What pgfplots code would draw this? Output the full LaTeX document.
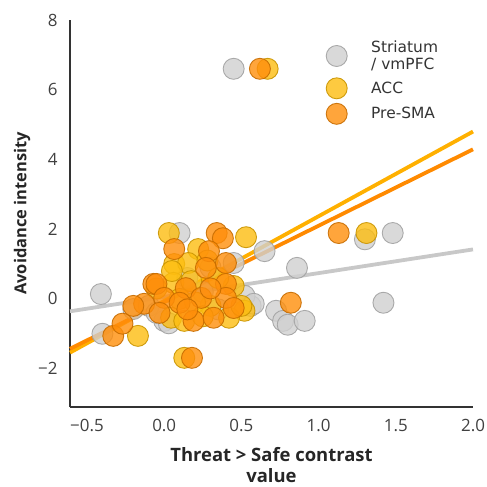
\documentclass[border=0pt]{standalone}
\usepackage{pgfplots}
\pgfplotsset{compat=1.18}
\usepackage{fontspec}
\setmainfont{Open Sans}
\newfontfamily\legfont{DejaVu Sans}

\definecolor{grfill}{HTML}{D0D0D0}
\definecolor{gredge}{HTML}{A2A2A2}
\definecolor{accfill}{HTML}{FDBD10}
\definecolor{accedge}{HTML}{C99400}
\definecolor{smafill}{HTML}{FF8E0A}
\definecolor{smaedge}{HTML}{C76C00}
\definecolor{grline}{HTML}{C8C8C8}
\definecolor{accline}{HTML}{FFB000}
\definecolor{smaline}{HTML}{FF8A00}
\definecolor{spine}{HTML}{333333}

\begin{document}
\begin{tikzpicture}
\begin{axis}[
    scale only axis,
    width=403bp, height=387bp,
    xmin=-0.61, xmax=2.0,
    ymin=-3.1, ymax=8,
    axis x line*=bottom, axis y line*=left,
    axis line style={spine, line width=1.4bp},
    major tick length=0pt,
    xtick={-0.5,0,0.5,1,1.5,2},
    xticklabels={−0.5,0.0,0.5,1.0,1.5,2.0},
    ytick={-2,0,2,4,6,8},
    yticklabels={−2,0,2,4,6,8},
    tick label style={font=\fontsize{17}{17}\selectfont, color=black!75},
    xticklabel style={yshift=-9bp},
    yticklabel style={xshift=-9bp},
    xlabel={Threat > Safe contrast\\value},
    xlabel style={font=\fontsize{18.5}{21}\selectfont\bfseries, align=center, color=black!85,
        at={(axis description cs:0.5,-0.151)}, anchor=center},
    ylabel={Avoidance intensity},
    ylabel style={font=\fontsize{16.5}{19}\selectfont\bfseries, color=black!85,
        at={(axis description cs:-0.119,0.5)}, anchor=center},
    clip=false,
    legend style={draw=none, fill=none, inner sep=0pt, at={(axis cs:1.048,7.47)}, anchor=north west,
        font=\legfont\fontsize{15.5}{17.5}\selectfont, row sep=4.5bp,
        cells={anchor=west, align=left}, text=black!80,
        /tikz/every odd column/.style={column sep=22bp}},
    legend image code/.code={\draw[mark repeat=2,mark phase=2,#1] plot coordinates {(0cm,0cm) (0.4cm,0cm) (0.8cm,0cm)};},
]
% Striatum / vmPFC
\addplot[only marks, mark=*, mark size=10.5bp, line width=0.9bp,
    mark options={fill=grfill, draw=gredge, fill opacity=0.8, draw opacity=0.9}]
coordinates {
(0.45,6.6) (1.30,1.71) (1.48,1.89) (0.65,1.37) (0.86,0.89) (1.42,-0.11)
(0.725,-0.34) (0.77,-0.63) (0.80,-0.74) (0.91,-0.63) (0.56,-0.2) (0.52,0.09)
(-0.41,0.14) (-0.40,-1.0) (-0.20,-0.29) (0.10,1.89) (0.45,1.03) (0.58,-0.14)
(0.0,-0.63) (0.03,-0.7) (-0.1,-0.2) (0.25,0.2) (0.35,-0.3) (0.15,0.6)
(0.3,0.9) (-0.05,-0.4)
};
\addlegendentry{Striatum\\/ vmPFC}
% ACC
\addplot[only marks, mark=*, mark size=10.5bp, line width=0.9bp,
    mark options={fill=accfill, draw=accedge, fill opacity=0.8, draw opacity=0.9}]
coordinates {
(0.67,6.6) (1.31,1.89) (0.53,1.77) (0.52,-0.34) (-0.17,-1.06) (0.03,1.89)
(0.22,1.43) (0.065,1.0) (0.155,1.03) (0.06,0.46) (0.175,0.51) (0.45,0.37)
(0.045,-0.54) (0.13,-0.63) (0.42,-0.54) (0.13,-1.69) (0.28,1.1) (0.1,0.0)
(0.3,-0.2) (0.2,-0.1) (0.35,0.6) (0.05,0.8) (-0.05,0.3) (0.25,-0.5) (0.5,-0.2)
};
\addlegendentry{ACC}
% Pre-SMA
\addplot[only marks, mark=*, mark size=10.5bp, line width=0.9bp,
    mark options={fill=smafill, draw=smaedge, fill opacity=0.8, draw opacity=0.9}]
coordinates {
(0.62,6.6) (1.13,1.89) (0.82,-0.11) (-0.33,-1.06) (-0.27,-0.71) (-0.13,-0.14)
(-0.07,0.43) (0.065,1.43) (0.34,1.89) (0.38,1.74) (0.29,1.37) (0.27,0.89)
(0.40,1.03) (-0.05,0.43) (0.14,0.31) (0.40,0.43) (0.0,0.03) (0.10,-0.11)
(0.24,0.03) (0.40,0.03) (0.45,-0.26) (0.19,-0.63) (0.32,-0.54) (-0.03,-0.4)
(0.18,-1.69) (-0.2,-0.2) (0.3,0.3) (0.15,-0.3)
};
\addlegendentry{Pre-SMA}
% regression lines
\addplot[grline, line width=3.8bp, forget plot] coordinates {(-0.61,-0.355) (2.0,1.42)};
\addplot[accline, line width=3.8bp, forget plot] coordinates {(-0.61,-1.54) (2.0,4.80)};
\addplot[smaline, line width=3.8bp, forget plot] coordinates {(-0.61,-1.43) (2.0,4.29)};
\end{axis}
\pgfresetboundingbox
\path[use as bounding box] (-70bp,-80bp) rectangle (417bp,407bp);
\end{tikzpicture}
\end{document}
